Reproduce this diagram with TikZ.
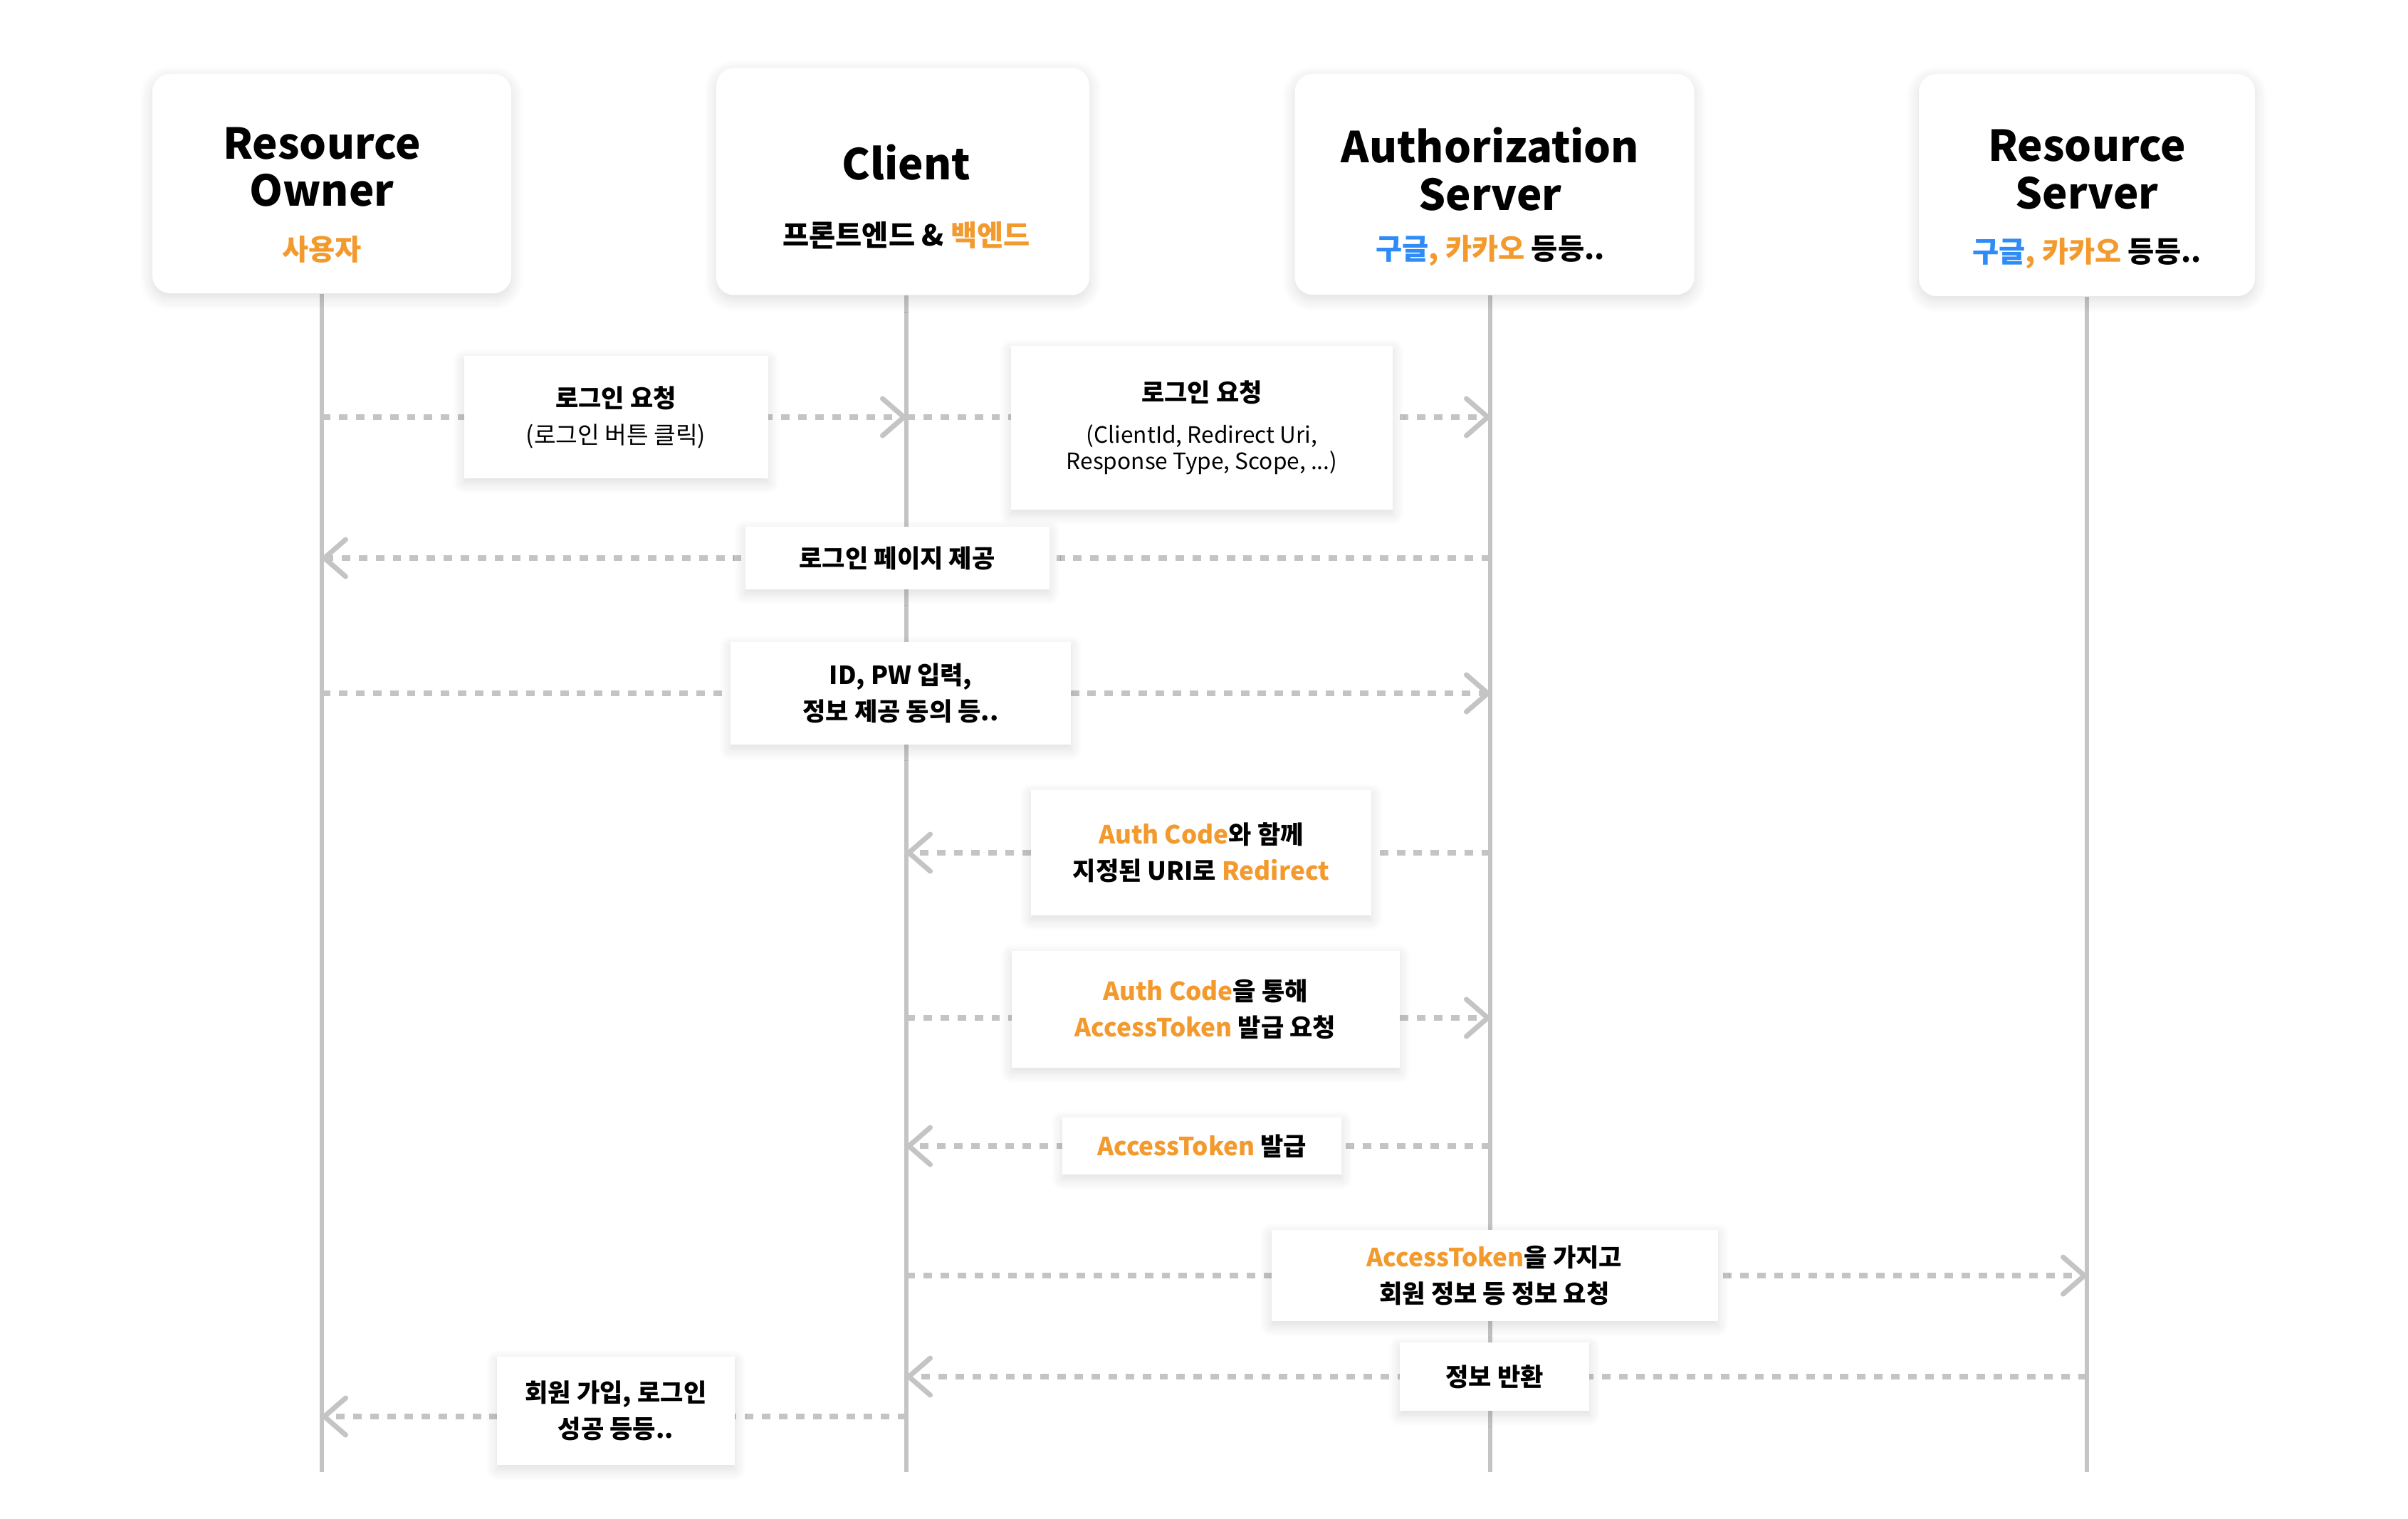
\documentclass[tikz,border=0pt]{standalone}
\usepackage{fontspec}
\setmainfont{Noto Sans CJK KR}
\usepackage{xcolor}
\usepackage{tikz}
\usetikzlibrary{arrows.meta, positioning, calc, backgrounds, shadows.blur}
\definecolor{lineGray}{HTML}{C4C4C4}
\definecolor{accent}{HTML}{F39A2E}
\definecolor{googleBlue}{HTML}{2F8CF6}
\tikzstyle{actor} = [rectangle, fill=white, rounded corners=0.25cm, blur shadow={shadow xshift=0pt, shadow yshift=-0.06cm, shadow blur radius=0.18cm, shadow blur steps=8, shadow opacity=14}]
\tikzstyle{actortext} = [align=center, inner sep=0pt, font=\fontsize{17}{19}\selectfont\bfseries]
\tikzstyle{msg} = [rectangle, fill=white, inner sep=0pt, align=center, font=\fontsize{10}{14.5}\selectfont\bfseries, blur shadow={shadow xshift=0pt, shadow yshift=-0.06cm, shadow blur radius=0.16cm, shadow blur steps=8, shadow opacity=14}]
\tikzstyle{lifeline} = [lineGray, line width=1.7pt]
\tikzstyle{arrow} = [lineGray, line width=2.3pt, dash pattern=on 3.4pt off 3.4pt, -{Straight Barb[length=0.3cm, width=0.52cm, line width=2pt, round]}]
\newcommand{\actorsub}[1]{{\fontsize{11.5}{14}\selectfont #1}}
\newcommand{\hl}[1]{\textcolor{accent}{#1}}
\newcommand{\msgnote}[1]{{\mdseries\fontsize{9}{10.5}\selectfont #1}}

\begin{document}
\begin{tikzpicture}
    \useasboundingbox (0,0) rectangle (33.82,-21.34);
    \coordinate (bottom) at (0,-20.68);

    % participants
    \node (ro) [actor, minimum width=5.04cm, minimum height=3.08cm] at (4.66,-2.58) {};
    \node (client) [actor, minimum width=5.24cm, minimum height=3.19cm] at (12.68,-2.55) {};
    \node (auth) [actor, minimum width=5.61cm, minimum height=3.10cm] at (20.99,-2.59) {};
    \node (rs) [actor, minimum width=4.72cm, minimum height=3.12cm] at (29.31,-2.60) {};

    \node (ro text) [actortext] at (4.52,-2.74) {Resource\\Owner\\[2.5pt]\actorsub{\hl{사용자}}};
    \node (client text) [actortext] at (12.73,-2.76) {Client\\[7.4pt]\actorsub{프론트엔드 \& \hl{백엔드}}};
    \node (auth text) [actortext] at (20.93,-2.76) {Authorization\\Server\\[0.6pt]\actorsub{\textcolor{googleBlue}{구글}\hl{, 카카오} 등등..}};
    \node (rs text) [actortext] at (29.31,-2.80) {Resource\\Server\\[2.5pt]\actorsub{\textcolor{googleBlue}{구글}\hl{, 카카오} 등등..}};

    % messages
    \node (m1) [msg, minimum width=4.27cm, minimum height=1.72cm] at (8.65,-5.86) {로그인 요청\\{\mdseries\fontsize{9.5}{14}\selectfont (로그인 버튼 클릭)}};
    \node (m2) [msg, minimum width=5.36cm, minimum height=2.30cm] at (16.88,-6.01) {로그인 요청\\[2pt]\msgnote{(ClientId, Redirect Uri,}\\[-4pt]\msgnote{Response Type, Scope, ...)}};
    \node (m3) [msg, minimum width=4.27cm, minimum height=0.88cm] at (12.60,-7.84) {로그인 페이지 제공};
    \node (m4) [msg, minimum width=4.78cm, minimum height=1.44cm] at (12.65,-9.74) {ID, PW 입력,\\정보 제공 동의 등..};
    \node (m5) [msg, minimum width=4.78cm, minimum height=1.76cm] at (16.87,-11.98) {\hl{Auth Code}와 함께\\지정된 URI로 \hl{Redirect}};
    \node (m6) [msg, minimum width=5.45cm, minimum height=1.64cm] at (16.93,-14.18) {\hl{Auth Code}을 통해\\\hl{AccessToken} 발급 요청};
    \node (m7) [msg, minimum width=3.92cm, minimum height=0.80cm] at (16.88,-16.10) {\hl{AccessToken} 발급};
    \node (m8) [msg, minimum width=6.27cm, minimum height=1.28cm] at (20.99,-17.92) {\hl{AccessToken}을 가지고\\회원 정보 등 정보 요청};
    \node (m9) [msg, minimum width=2.66cm, minimum height=0.96cm] at (20.99,-19.34) {정보 반환};
    \node (m10) [msg, minimum width=3.34cm, minimum height=1.52cm] at (8.65,-19.82) {회원 가입, 로그인\\성공 등등..};

    \begin{scope}[on background layer]
        \draw [lifeline] (ro text |- ro.south) -- (ro text |- bottom);
        \draw [lifeline] (client text |- client.south) -- (client text |- bottom);
        \draw [lifeline] (auth text |- auth.south) -- (auth text |- bottom);
        \draw [lifeline] (rs text |- rs.south) -- (rs text |- bottom);

        \draw [arrow] (ro text |- m1) -- (client text |- m1);
        \draw [arrow] ($(client text |- m2)+(0,0.15)$) -- ($(auth text |- m2)+(0,0.15)$);
        \draw [arrow] (auth text |- m3) -- (ro text |- m3);
        \draw [arrow] (ro text |- m4) -- (auth text |- m4);
        \draw [arrow] (auth text |- m5) -- (client text |- m5);
        \draw [arrow] ($(client text |- m6)+(0,-0.12)$) -- ($(auth text |- m6)+(0,-0.12)$);
        \draw [arrow] (auth text |- m7) -- (client text |- m7);
        \draw [arrow] (client text |- m8) -- (rs text |- m8);
        \draw [arrow] (rs text |- m9) -- (client text |- m9);
        \draw [arrow] ($(client text |- m10)+(0,-0.08)$) -- ($(ro text |- m10)+(0,-0.08)$);
    \end{scope}
\end{tikzpicture}
\end{document}
